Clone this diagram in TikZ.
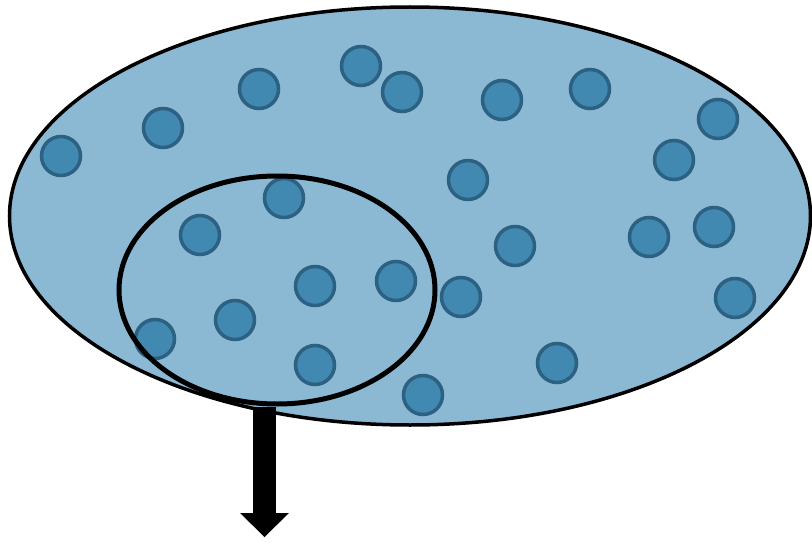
\documentclass[tikz,border=0pt]{standalone}
\usepackage{tikz}
\usetikzlibrary{arrows.meta, shapes.geometric}

\definecolor{poolblue}{RGB}{139,185,212}
\definecolor{cellblue}{RGB}{66,137,178}
\definecolor{celledge}{RGB}{44,97,130}

\begin{document}
\begin{tikzpicture}[
  x=1pt, y=-1pt,
  pool/.style={ellipse, draw=black, line width=3.5pt, fill=poolblue,
               minimum width=801pt, minimum height=418pt, inner sep=0pt},
  sample/.style={ellipse, draw=black, line width=5pt,
                 minimum width=316pt, minimum height=228pt, inner sep=0pt},
  cell/.style={circle, draw=celledge, line width=3.5pt, fill=cellblue,
               minimum size=39pt, inner sep=0pt},
  bigarrow/.style={line width=23pt,
                   -{Triangle[width=49pt, length=24pt, line width=0pt]}}
]
\useasboundingbox (0,0) rectangle (812,543);

\node[pool] (pool) at (410,216) {};

\foreach \x/\y [count=\i] in {61/156, 163/128, 259/89, 361/66, 402/92,
    502/100, 590/89, 718/119, 674/160, 468/180, 284/198, 200/235,
    515/246, 649/237, 714/227, 315/286, 396/281, 461/297, 735/298,
    235/320, 155/339, 315/365, 557/363, 423/395}
  \node[cell] (c\i) at (\x,\y) {};

\node[sample] (sample) at (277,290) {};

\coordinate (out) at (264.5,537);
\draw[bigarrow] (sample.south -| out) -- (out);

\end{tikzpicture}
\end{document}
